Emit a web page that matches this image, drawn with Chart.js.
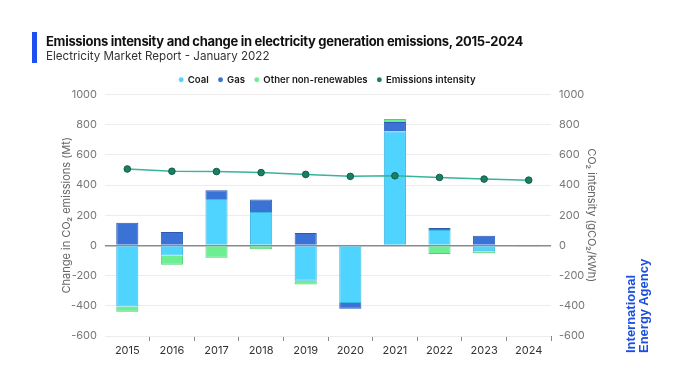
<!DOCTYPE html>
<html>
<head>
<meta charset="utf-8">
<script src="https://cdn.jsdelivr.net/npm/chart.js@4.4.1/dist/chart.umd.min.js"></script>
<style>
  html, body { margin: 0; padding: 0; background: #fff; }
  #wrap { position: relative; width: 680px; height: 383px; overflow: hidden; font-family: Inter, Roboto, "Noto Sans", sans-serif; }
  #bar { position: absolute; left: 32px; top: 32px; width: 5px; height: 31px; background: #1f4ff0; }
  #title { position: absolute; left: 46px; top: 33px; font-size: 13px; font-weight: 700; color: #111; white-space: nowrap; letter-spacing: -0.3px; }
  #subtitle { position: absolute; left: 46px; top: 49px; font-size: 11.6px; color: #333; white-space: nowrap; }
  #logo { position: absolute; left: 624px; top: 353px; transform-origin: 0 0; transform: rotate(-90deg); font-size: 13px; line-height: 13px; font-weight: 700; color: #1a4fe0; white-space: nowrap; font-family: "Liberation Sans", Arial, sans-serif; }
  canvas { position: absolute; left: 0; top: 0; }
</style>
</head>
<body>
<div id="wrap">
  <canvas id="c" width="680" height="383"></canvas>
  <div id="bar"></div>
  <div id="title">Emissions intensity and change in electricity generation emissions, 2015-2024</div>
  <div id="subtitle">Electricity Market Report - January 2022</div>
  <div id="logo">International<br>Energy Agency</div>
</div>
<script>
const years = ['2015','2016','2017','2018','2019','2020','2021','2022','2023','2024'];
const coal = [-405, -67, 308, 222, -233, -382, 756, 102, -38, 0];
const gas = [150, 89, 58, 83, 82, -38, 62, 14, 64, -4];
const otherNonRenewables = [-35, -60, -82, -25, -25, 0, 20, -56, -14, 0];
const emissionsIntensity = [507, 492, 490, 483, 471, 458, 462, 451, 440, 433];
const yTicks = [-600, -400, -200, 0, 200, 400, 600, 800, 1000];

const tickFont = { family: 'Inter, Roboto, sans-serif', size: 11 };

new Chart(document.getElementById('c'), {
  data: {
    labels: years,
    datasets: [
      { type: 'bar', label: 'Coal', data: coal, backgroundColor: '#4fd4ff', borderColor: '#3bb7e0', borderWidth: 1, yAxisID: 'y', order: 1, categoryPercentage: 0.8, barPercentage: 0.62 },
      { type: 'bar', label: 'Gas', data: gas, backgroundColor: '#3b72d6', borderColor: '#2d5ab0', borderWidth: 1, yAxisID: 'y', order: 1, categoryPercentage: 0.8, barPercentage: 0.62 },
      { type: 'bar', label: 'Other non-renewables', data: otherNonRenewables, backgroundColor: '#6bef92', borderColor: '#4fcf76', borderWidth: 1, yAxisID: 'y', order: 1, categoryPercentage: 0.8, barPercentage: 0.62 },
      { type: 'line', label: 'Emissions intensity', data: emissionsIntensity, yAxisID: 'y1', order: 0, borderColor: '#35b59c', backgroundColor: '#1b8a6c', borderWidth: 1.5, pointRadius: 3.3, pointBackgroundColor: '#1b7f63', pointBorderColor: '#0f5e47', pointBorderWidth: 1, tension: 0 }
    ]
  },
  options: {
    responsive: false,
    animation: false,
    devicePixelRatio: 1,
    layout: { padding: { left: 55, right: 80, top: 65, bottom: 20 } },
    plugins: {
      tooltip: { enabled: false },
      legend: {
        position: 'top',
        align: 'center',
        labels: {
          usePointStyle: true,
          pointStyle: 'circle',
          boxHeight: 3.5,
          boxWidth: 3.5,
          padding: 10,
          color: '#1a1a1a',
          font: { family: 'Inter, Roboto, sans-serif', size: 9.6, weight: '600' },
          sort: (a, b) => a.datasetIndex - b.datasetIndex,
          generateLabels: (chart) => {
            const items = Chart.defaults.plugins.legend.labels.generateLabels(chart);
            items.forEach(it => { it.lineWidth = 0; it.strokeStyle = 'rgba(0,0,0,0)'; });
            return items;
          }
        }
      }
    },
    scales: {
      x: {
        stacked: true,
        offset: true,
        border: { display: false },
        grid: { offset: true, drawOnChartArea: false, drawTicks: true, tickLength: 5,
          color: (ctx) => ctx.index === 0 ? 'rgba(0,0,0,0)' : '#888', lineWidth: 1 },
        ticks: { color: '#333', font: tickFont, padding: 3, maxRotation: 0 },
        afterFit: (s) => { s.height = 27; }
      },
      y: {
        type: 'linear',
        position: 'left',
        stacked: true,
        min: -600, max: 1000,
        afterBuildTicks: (s) => { s.ticks = yTicks.map(v => ({ value: v })); },
        border: { display: false },
        grid: {
          drawTicks: false,
          color: (ctx) => ctx.tick && ctx.tick.value === 0 ? '#8a8a8a' : '#ececec',
          lineWidth: (ctx) => ctx.tick && ctx.tick.value === 0 ? 1.5 : 1
        },
        ticks: { color: '#777', font: tickFont, padding: 8, callback: (v) => String(v) },
        title: { display: true, text: 'Change in CO₂ emissions (Mt)', color: '#666', font: tickFont, padding: 5 },
        afterFit: (s) => { s.width = 50; }
      },
      y1: {
        type: 'linear',
        position: 'right',
        min: -600, max: 1000,
        afterBuildTicks: (s) => { s.ticks = yTicks.map(v => ({ value: v })); },
        border: { display: false },
        grid: { drawOnChartArea: false, drawTicks: false },
        ticks: { color: '#777', font: tickFont, padding: 8, callback: (v) => String(v) },
        title: { display: true, text: 'CO₂ intensity (gCO₂/kWh)', color: '#666', font: tickFont, padding: 2 },
        afterFit: (s) => { s.width = 49; }
      }
    }
  }
});
</script>
</body>
</html>
